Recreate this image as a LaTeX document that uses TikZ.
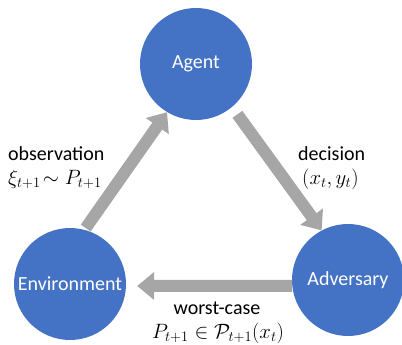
\documentclass[tikz,border=0pt]{standalone}
\usepackage{fontspec}
\setmainfont{Carlito}
\usetikzlibrary{arrows.meta}
\definecolor{nodeblue}{RGB}{68,114,196}
\definecolor{flowgray}{RGB}{166,166,166}
\tikzset{
  stagenode/.style={circle, fill=nodeblue, minimum size=112pt, inner sep=0pt,
    text=white, font=\fontsize{20}{24}\selectfont},
  flowarrow/.style={draw=flowgray, line width=12pt, line cap=butt,
    -{Triangle[width=27pt,length=17pt]}},
  flowlabel/.style={inner sep=0pt, font=\fontsize{20}{24}\selectfont}
}
\begin{document}
\begin{tikzpicture}[x=1pt, y=-1pt]
  \useasboundingbox (0,0) rectangle (402,345);

  % the three stages of the loop
  \node[stagenode] (agent) at (196,64) {Agent};
  \node[stagenode] (env) at (70,284) {Environment};
  \node[stagenode] (adv) at (348,280) {Adversary};

  % flow between the stages
  \draw[flowarrow, shorten <=2pt] (env.75) -- (agent.239);
  \draw[flowarrow, shorten <=9pt] (agent.-50) -- (adv.118);
  \draw[flowarrow, shorten >=11pt] (adv.186) -- (env.-2);

  % labels beside the arrows
  \node[flowlabel, anchor=base west] (obs) at (8,160) {observation};
  \node[flowlabel, anchor=base west] (obsmath) at (8,184) {$\xi_{t+1}\!\sim P_{t+1}$};
  \node[flowlabel, anchor=base west] (dec) at (298,160) {decision};
  \node[flowlabel, anchor=base west] (decmath) at (302,184) {$(x_t, y_t)$};
  \node[flowlabel, anchor=base] (worst) at (217,314) {worst-case};
  \node[flowlabel, anchor=base] (worstmath) at (218,338) {$P_{t+1}\in\mathcal{P}_{t+1}(x_t)$};
\end{tikzpicture}
\end{document}
